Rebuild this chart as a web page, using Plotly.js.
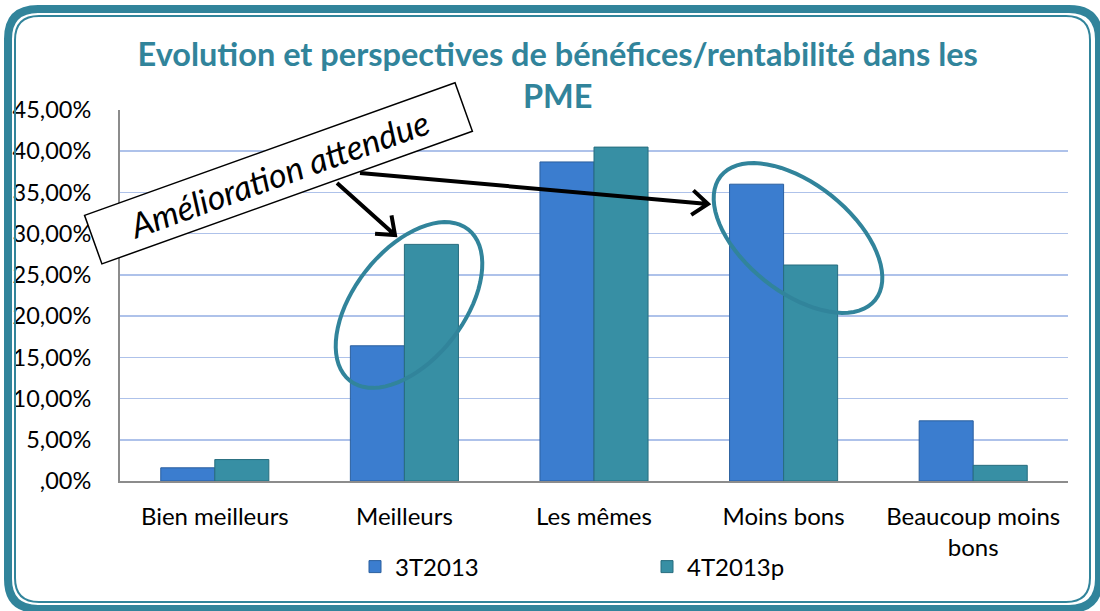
<!DOCTYPE html>
<html>
<head>
<meta charset="utf-8">
<script src="https://cdn.plot.ly/plotly-3.0.1.min.js"></script>
<style>html,body{margin:0;padding:0;background:#fff;}#chart{width:1100px;height:611px;}</style>
</head>
<body>
<div id="chart"></div>
<script>
const categories = ['Bien meilleurs', 'Meilleurs', 'Les mêmes', 'Moins bons', 'Beaucoup moins<br>bons'];
const series3T2013 = [1.6, 16.4, 38.7, 36.0, 7.3];
const series4T2013p = [2.6, 28.7, 40.5, 26.2, 1.9];
const seriesNames = ['3T2013', '4T2013p'];
const yTickVals = [0, 5, 10, 15, 20, 25, 30, 35, 40, 45];
const yTickText = [',00%', '5,00%', '10,00%', '15,00%', '20,00%', '25,00%', '30,00%', '35,00%', '40,00%', '45,00%'];
const titleText = 'Evolution et perspectives de bénéfices/rentabilité dans les<br>PME';
const calloutText = 'Amélioration attendue';

const W = 1100, H = 611, L = 120, R = 1068, T = 110, B = 481;
const teal = '#31849b';
function px(x) { return (x - L) / (R - L); }
function py(y) { return (B - y) / (B - T); }
function pt(x, y) { return px(x).toFixed(5) + ',' + py(y).toFixed(5); }

function roundRect(x0, y0, x1, y1, r) {
  return 'M' + pt(x0 + r, y0) + ' L' + pt(x1 - r, y0) + ' Q' + pt(x1, y0) + ' ' + pt(x1, y0 + r) +
    ' L' + pt(x1, y1 - r) + ' Q' + pt(x1, y1) + ' ' + pt(x1 - r, y1) +
    ' L' + pt(x0 + r, y1) + ' Q' + pt(x0, y1) + ' ' + pt(x0, y1 - r) +
    ' L' + pt(x0, y0 + r) + ' Q' + pt(x0, y0) + ' ' + pt(x0 + r, y0) + ' Z';
}
function ellipsePath(cx, cy, a, b, deg) {
  const th = deg * Math.PI / 180;
  let d = '';
  for (let i = 0; i <= 72; i++) {
    const t = i / 72 * 2 * Math.PI;
    const ex = a * Math.cos(t), ey = b * Math.sin(t);
    const x = cx + ex * Math.cos(th) - ey * Math.sin(th);
    const y = cy - (ex * Math.sin(th) + ey * Math.cos(th));
    d += (i === 0 ? 'M' : ' L') + pt(x, y);
  }
  return d + ' Z';
}
function arrowPath(x0, y0, x1, y1, len, angDeg) {
  const dx = x1 - x0, dy = y1 - y0, n = Math.hypot(dx, dy);
  const ux = dx / n, uy = dy / n, a = angDeg * Math.PI / 180;
  const r1x = ux * Math.cos(a) - uy * Math.sin(a), r1y = ux * Math.sin(a) + uy * Math.cos(a);
  const r2x = ux * Math.cos(-a) - uy * Math.sin(-a), r2y = ux * Math.sin(-a) + uy * Math.cos(-a);
  return 'M' + pt(x0, y0) + ' L' + pt(x1, y1) +
    ' M' + pt(x1 - len * r1x, y1 - len * r1y) + ' L' + pt(x1, y1) + ' L' + pt(x1 - len * r2x, y1 - len * r2y);
}

const traces = [
  { type: 'bar', name: seriesNames[0], x: categories, y: series3T2013,
    marker: { color: '#3b7dcf', line: { color: '#2b5f9e', width: 1 } } },
  { type: 'bar', name: seriesNames[1], x: categories, y: series4T2013p,
    marker: { color: '#378fa4', line: { color: '#276d7e', width: 1 } } }
];

const shapes = [
  { type: 'path', xref: 'paper', yref: 'paper', path: roundRect(8, 9, 1099, 609, 30), line: { color: teal, width: 8 }, layer: 'above' },
  { type: 'path', xref: 'paper', yref: 'paper', path: roundRect(15, 16, 1090, 602, 24), line: { color: teal, width: 2 }, layer: 'above' },
  { type: 'path', xref: 'paper', yref: 'paper', path: ellipsePath(409, 305, 96, 55, 52), line: { color: teal, width: 4 }, layer: 'above' },
  { type: 'path', xref: 'paper', yref: 'paper', path: ellipsePath(798, 238, 99, 54, -38.7), line: { color: teal, width: 4 }, layer: 'above' },
  { type: 'path', xref: 'paper', yref: 'paper', path: arrowPath(337, 183, 395, 235, 20, 38), line: { color: '#000', width: 4 }, layer: 'above' },
  { type: 'path', xref: 'paper', yref: 'paper', path: arrowPath(360, 173, 708, 204, 20, 38), line: { color: '#000', width: 4 }, layer: 'above' }
];

const layout = {
  width: W, height: H,
  margin: { l: L, r: W - R, t: T, b: H - B },
  paper_bgcolor: '#fff', plot_bgcolor: '#fff',
  font: { family: 'Lato, sans-serif', color: '#000', size: 24 },
  title: { text: titleText, font: { family: 'Lato, sans-serif', size: 32.5, color: teal, weight: 'bold' },
    x: 0.507, xanchor: 'center', y: 1 - 66 / H, yanchor: 'middle' },
  barmode: 'group', bargap: 0.43, bargroupgap: 0,
  xaxis: { type: 'category', showline: true, linecolor: '#8c8c8c', linewidth: 2, ticks: '', ticklabelstandoff: 13,
    tickfont: { size: 24 }, showgrid: false, zeroline: false, fixedrange: true },
  yaxis: { range: [0, 45], tickvals: yTickVals, ticktext: yTickText, showline: true, linecolor: '#8c8c8c', linewidth: 2,
    ticks: '', ticklabelstandoff: 22, tickfont: { size: 23.5 }, showgrid: true, gridcolor: '#aec2ea', gridwidth: 1.5,
    zeroline: false, fixedrange: true },
  legend: { orientation: 'h', x: px(355), xanchor: 'left', y: py(567), yanchor: 'middle',
    entrywidth: 247, entrywidthmode: 'pixels', font: { size: 24 }, bgcolor: 'rgba(0,0,0,0)' },
  shapes: shapes,
  annotations: [
    { text: calloutText, xref: 'paper', yref: 'paper', x: px(278), y: py(173.5), xanchor: 'center', yanchor: 'middle',
      showarrow: false, textangle: -19.7, bgcolor: '#fff', bordercolor: '#000', borderwidth: 1.5, borderpad: 0,
      width: 392, height: 50, font: { family: 'Lato, sans-serif', size: 34, style: 'italic', color: '#000' } }
  ]
};

Plotly.newPlot('chart', traces, layout, { displayModeBar: false, staticPlot: true });
</script>
</body>
</html>
